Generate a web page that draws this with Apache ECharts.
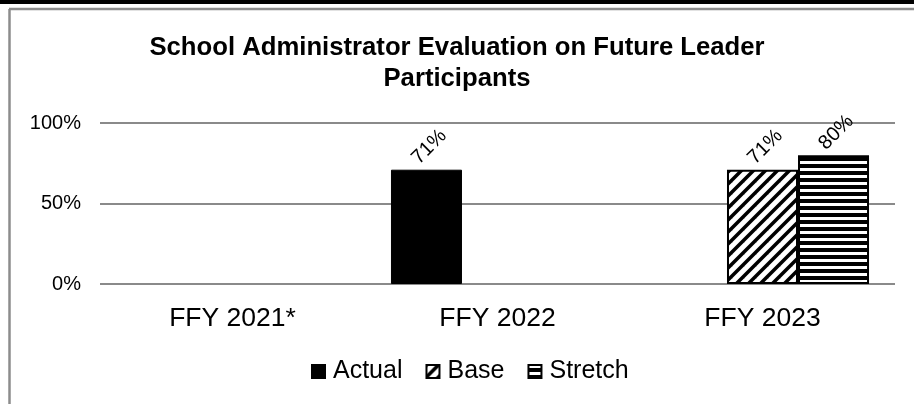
<!DOCTYPE html>
<html>
<head>
<meta charset="utf-8">
<script src="https://cdn.jsdelivr.net/npm/echarts@6/dist/echarts.min.js"></script>
<style>
  html, body { margin: 0; padding: 0; background: #fff; }
  #chart { width: 914px; height: 404px; }
</style>
</head>
<body>
<div id="chart"></div>
<script>
const categories = ['FFY 2021*', 'FFY 2022', 'FFY 2023'];
const actual = [null, 71, null];
const base = [null, null, 71];
const stretch = [null, null, 80];
const FONT = '"Liberation Sans", Arial, sans-serif';

// diagonal "/" hatch tile
const diagTile = () => {
  const s = 12;
  const c = document.createElement('canvas');
  c.width = s; c.height = s;
  const ctx = c.getContext('2d');
  ctx.fillStyle = '#fff';
  ctx.fillRect(0, 0, s, s);
  ctx.strokeStyle = '#000';
  ctx.lineWidth = 3.5;
  [[0, s, s, 0], [-s / 2, s / 2, s / 2, -s / 2], [s / 2, s * 1.5, s * 1.5, s / 2]].forEach(l => {
    ctx.beginPath();
    ctx.moveTo(l[0], l[1]);
    ctx.lineTo(l[2], l[3]);
    ctx.stroke();
  });
  return c;
};

// horizontal stripes tile
const stripeTile = () => {
  const c = document.createElement('canvas');
  c.width = 8; c.height = 7;
  const ctx = c.getContext('2d');
  ctx.fillStyle = '#fff';
  ctx.fillRect(0, 0, 8, 7);
  ctx.fillStyle = '#000';
  ctx.fillRect(0, 3, 8, 4);
  return c;
};

const barLabel = {
  show: true,
  position: 'top',
  distance: 20,
  offset: [4, 0],
  rotate: 45,
  align: 'center',
  verticalAlign: 'middle',
  formatter: '{c}%',
  fontFamily: FONT,
  fontSize: 20,
  color: '#000'
};

const chart = echarts.init(document.getElementById('chart'));
chart.setOption({
  animation: false,
  backgroundColor: '#fff',
  title: {
    text: 'School Administrator Evaluation on Future Leader\nParticipants',
    left: 'center',
    top: 27,
    textStyle: { fontFamily: FONT, fontSize: 25.7, fontWeight: 'bold', color: '#000', lineHeight: 31 }
  },
  graphic: [
    { type: 'rect', shape: { x: 0, y: 0, width: 914, height: 4 }, style: { fill: '#000' } },
    { type: 'line', shape: { x1: 9, y1: 9, x2: 914, y2: 9 }, style: { stroke: '#8c8c8c', lineWidth: 2.5 } },
    { type: 'line', shape: { x1: 9.5, y1: 9, x2: 9.5, y2: 404 }, style: { stroke: '#8c8c8c', lineWidth: 2.5 } }
  ],
  legend: {
    bottom: 15,
    left: 306,
    itemWidth: 13,
    itemHeight: 13,
    itemGap: 23,
    icon: 'rect',
    textStyle: { fontFamily: FONT, fontSize: 25, color: '#000', padding: [0, 0, 0, 3] },
    data: ['Actual', 'Base', 'Stretch']
  },
  grid: { left: 100, right: 19, top: 123, bottom: 120 },
  xAxis: {
    type: 'category',
    data: categories,
    axisLine: { show: false },
    axisTick: { show: false },
    axisLabel: { fontFamily: FONT, fontSize: 26.5, color: '#000', margin: 21 }
  },
  yAxis: {
    type: 'value',
    min: 0,
    max: 100,
    interval: 50,
    axisLabel: { formatter: '{value}%', fontFamily: FONT, fontSize: 20, color: '#000', margin: 19 },
    splitLine: { lineStyle: { color: '#8a8a8a', width: 2 } },
    axisLine: { show: false },
    axisTick: { show: false }
  },
  series: [
    {
      name: 'Actual', type: 'bar', data: actual,
      barGap: '0%', barCategoryGap: '19.6%',
      itemStyle: { color: '#000', borderColor: '#000', borderWidth: 1 },
      label: barLabel
    },
    {
      name: 'Base', type: 'bar', data: base,
      barGap: '0%', barCategoryGap: '19.6%',
      itemStyle: { color: { image: diagTile(), repeat: 'repeat' }, borderColor: '#000', borderWidth: 2 },
      label: barLabel
    },
    {
      name: 'Stretch', type: 'bar', data: stretch,
      barGap: '0%', barCategoryGap: '19.6%',
      itemStyle: { color: { image: stripeTile(), repeat: 'repeat' }, borderColor: '#000', borderWidth: 2 },
      label: barLabel
    }
  ]
});
</script>
</body>
</html>
